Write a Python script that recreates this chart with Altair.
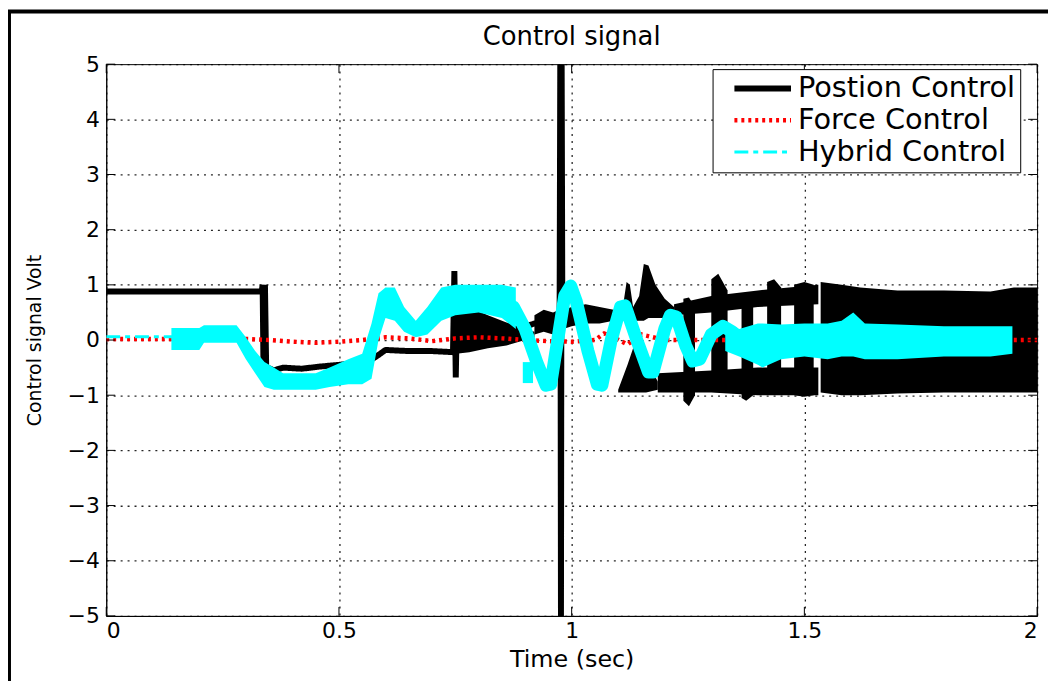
import altair as alt
import pandas as pd

SERIES = ["Postion Control", "Force Control", "Hybrid Control"]
COLORS = ["#000000", "#ff0000", "#00ffff"]
DASHES = [[1, 0], [3, 4], [14, 5, 5, 5]]
WIDTHS = [6, 3, 6]

XTICKS = [0, 0.5, 1, 1.5, 2]
YTICKS = [-5, -4, -3, -2, -1, 0, 1, 2, 3, 4, 5]

# Position control: main path
POS_T = [0, 0.334, 0.336, 0.338, 0.341, 0.344, 0.347, 0.36, 0.38, 0.42, 0.46, 0.5, 0.53, 0.55,
         0.565, 0.58, 0.6, 0.65, 0.7, 0.745, 0.748, 0.751, 0.754, 0.76, 0.85, 0.92, 0.96, 0.974,
         0.9755, 0.977, 0.9785, 0.98, 1.0, 1.05]
POS_V = [0.88, 0.88, 1.0, -0.6, 1.0, -0.7, -0.5, -0.55, -0.5, -0.52, -0.48, -0.45, -0.42, -0.33,
         -0.38, -0.3, -0.18, -0.2, -0.2, -0.22, 1.25, -0.68, 0.7, 0.1, 0.1, 0.3, 0.3, 0.2,
         5, -5, 5, 0.4, 0.45, 0.45]

# Position control: dense oscillation envelopes (segments)
PB_SEG = (["w"] * 6 + ["a"] * 4 + ["b"] * 15 + ["c"] * 5 + ["u"] * 4 + ["l"] * 4 +
          ["k1"] * 3 + ["k2"] * 3 + ["k3"] * 3 + ["k4"] * 3 + ["k5"] * 3 + ["s"] * 8)
PB_T = [0.752, 0.78, 0.82, 0.86, 0.90, 0.92,
        0.92, 0.94, 0.96, 0.973,
        0.982, 1.0, 1.03, 1.06, 1.09, 1.11, 1.118, 1.125, 1.132, 1.145, 1.155, 1.165, 1.18, 1.2, 1.22,
        1.1, 1.12, 1.136, 1.16, 1.185,
        1.22, 1.3, 1.4, 1.53,
        1.185, 1.3, 1.4, 1.53,
        1.24, 1.252, 1.265,
        1.30, 1.315, 1.335,
        1.365, 1.375, 1.39,
        1.42, 1.435, 1.45,
        1.478, 1.5, 1.52,
        1.535, 1.58, 1.62, 1.7, 1.8, 1.9, 1.95, 2.0]
PB_LO = [-0.25, -0.22, -0.15, -0.1, 0.0, 0.05,
         0.1, 0.15, 0.1, 0.15,
         0.2, 0.25, 0.3, 0.3, 0.35, 0.35, 0.4, 0.4, 0.35, 0.35, 0.35, 0.4, 0.4, 0.4, 0.4,
         -0.95, -0.95, -0.95, -0.95, -0.9,
         0.45, 0.5, 0.6, 0.65,
         -0.95, -0.95, -1.0, -1.0,
         -1.1, -1.2, -1.0,
         -0.85, -0.9, -0.9,
         -1.05, -1.1, -1.0,
         -0.9, -0.9, -0.9,
         -1.0, -1.03, -1.0,
         -0.95, -1.0, -1.0, -0.97, -0.95, -0.95, -0.95, -0.95]
PB_HI = [0.72, 0.6, 0.45, 0.32, 0.2, 0.15,
         0.45, 0.55, 0.5, 0.55,
         0.55, 0.6, 0.65, 0.6, 0.55, 0.6, 1.05, 1.0, 0.6, 0.8, 1.38, 1.35, 1.0, 0.75, 0.6,
         -0.9, -0.45, -0.05, -0.35, -0.75,
         0.65, 0.8, 0.9, 1.0,
         -0.6, -0.55, -0.5, -0.5,
         0.75, 0.77, 0.6,
         1.1, 1.2, 0.9,
         0.8, 0.85, 0.7,
         1.05, 1.1, 0.95,
         1.0, 1.05, 1.0,
         1.05, 1.0, 0.95, 0.9, 0.9, 0.88, 0.95, 0.95]

# Force control
FORCE_T = [0, 0.3, 0.35, 0.4, 0.45, 0.5, 0.55, 0.6, 0.65, 0.7, 0.75, 0.8, 0.85, 0.9, 0.95, 1.0,
           1.05, 1.07, 1.09, 1.12, 1.15, 1.2, 1.3, 1.5, 1.7, 1.9, 2.0]
FORCE_V = [0.02, 0.02, 0.0, -0.03, -0.05, -0.03, 0.0, 0.05, 0.03, -0.02, 0.03, 0.05, 0.03, 0.0,
           -0.02, -0.03, 0.0, 0.12, 0.05, -0.08, 0.1, 0.0, 0.0, 0.0, 0.0, 0.0, 0.0]

# Hybrid control: initial dash-dot part
HD_T = [0, 0.175]
HD_V = [0.06, 0.06]

# Hybrid control: thick oscillating part
HY_T = [0.875, 0.9, 0.925, 0.945, 0.955, 0.97, 0.985, 0.998, 1.01, 1.035, 1.055, 1.065, 1.085,
        1.105, 1.115, 1.14, 1.165, 1.175, 1.2, 1.212, 1.225, 1.245, 1.26, 1.275, 1.3, 1.325,
        1.345, 1.37, 1.4]
HY_V = [0.6, 0.2, -0.4, -0.82, -0.8, 0.0, 0.8, 0.98, 0.7, -0.2, -0.8, -0.82, 0.0, 0.6, 0.62,
        0.0, -0.58, -0.58, 0.2, 0.45, 0.42, -0.1, -0.38, -0.35, 0.1, 0.25, 0.15, -0.05, 0.0]

# Hybrid control: noisy band parts
HB_SEG = ["p1"] * 25 + ["p2"] * 2 + ["p3"] * 14
HB_T = [0.14, 0.2, 0.21, 0.28, 0.3, 0.32, 0.34, 0.36, 0.38, 0.45, 0.48, 0.52, 0.55, 0.57, 0.585,
        0.60, 0.62, 0.64, 0.665, 0.69, 0.72, 0.75, 0.8, 0.85, 0.88,
        0.895, 0.917,
        1.33, 1.36, 1.40, 1.41, 1.45, 1.5, 1.55, 1.58, 1.605, 1.63, 1.7, 1.8, 1.9, 1.947]
HB_HI = [0.22, 0.22, 0.27, 0.27, 0.05, -0.2, -0.4, -0.5, -0.6, -0.6, -0.5, -0.35, -0.25, 0.3, 0.85,
         0.95, 0.95, 0.6, 0.35, 0.6, 0.95, 1.0, 1.0, 1.0, 0.95,
         -0.4, -0.4,
         0.3, 0.2, 0.3, 0.3, 0.28, 0.3, 0.3, 0.35, 0.5, 0.3, 0.28, 0.25, 0.25, 0.25]
HB_LO = [-0.18, -0.18, -0.05, -0.05, -0.35, -0.6, -0.85, -0.9, -0.9, -0.9, -0.85, -0.8, -0.8, -0.7, 0.0,
         0.4, 0.35, 0.15, 0.05, 0.1, 0.35, 0.45, 0.5, 0.4, 0.2,
         -0.78, -0.78,
         -0.2, -0.3, -0.45, -0.5, -0.35, -0.3, -0.35, -0.3, -0.3, -0.35, -0.35, -0.3, -0.3, -0.25]

FONT = "DejaVu Sans"
W, H = 938, 556

xs = alt.Scale(domain=[0, 2], nice=False, zero=False)
ys = alt.Scale(domain=[-5, 5], nice=False, zero=False)
xaxis = alt.Axis(values=XTICKS, format="~g", title="Time (sec)", grid=True, ticks=False,
                 labelPadding=5, titleX=W / 2, titleY=44, titleBaseline="middle", titleAlign="center")
yaxis = alt.Axis(values=YTICKS, format="~g", title="Control signal Volt", grid=True, ticks=False,
                 labelPadding=7, titleX=-72, titleY=278, titleBaseline="middle",
                 titleAlign="center", titleAngle=270)


def X():
    return alt.X("t:Q", scale=xs, axis=xaxis)


def Y(f):
    return alt.Y(f"{f}:Q", scale=ys, axis=yaxis)


def legend_enc():
    return dict(
        color=alt.Color("series:N", scale=alt.Scale(domain=SERIES, range=COLORS), legend=alt.Legend(title=None)),
        strokeDash=alt.StrokeDash("series:N", scale=alt.Scale(domain=SERIES, range=DASHES), legend=alt.Legend(title=None)),
        strokeWidth=alt.StrokeWidth("series:N", scale=alt.Scale(domain=SERIES, range=WIDTHS), legend=alt.Legend(title=None)),
        order=alt.Order("i:Q"),
    )


pos_df = pd.DataFrame({"t": POS_T, "v": POS_V, "series": SERIES[0], "i": range(len(POS_T))})
force_df = pd.DataFrame({"t": FORCE_T, "v": FORCE_V, "series": SERIES[1], "i": range(len(FORCE_T))})
hd_df = pd.DataFrame({"t": HD_T, "v": HD_V, "series": SERIES[2], "i": range(len(HD_T))})
hy_df = pd.DataFrame({"t": HY_T, "v": HY_V, "i": range(len(HY_T))})
pb_df = pd.DataFrame({"t": PB_T, "lo": PB_LO, "hi": PB_HI, "seg": PB_SEG})
hb_df = pd.DataFrame({"t": HB_T, "lo": HB_LO, "hi": HB_HI, "seg": HB_SEG})
ytick_df = pd.DataFrame({"v": YTICKS})
xtick_df = pd.DataFrame({"t": XTICKS})

frame = alt.Chart(pd.DataFrame({"k": [0]})).mark_rect(filled=False, stroke="black", strokeWidth=4).encode(
    x=alt.value(-98), x2=alt.value(1000), y=alt.value(-53), y2=alt.value(700))

pos_band = alt.Chart(pb_df).mark_area(color="black", clip=True).encode(
    x=X(), y=Y("lo"), y2=alt.Y2("hi:Q"), detail="seg:N")
pos_line = alt.Chart(pos_df).mark_line(clip=True, strokeJoin="bevel").encode(x=X(), y=Y("v"), **legend_enc())
force_line = alt.Chart(force_df).mark_line(clip=True).encode(x=X(), y=Y("v"), **legend_enc())
hd_line = alt.Chart(hd_df).mark_line(clip=True).encode(x=X(), y=Y("v"), **legend_enc())
hyb_band = alt.Chart(hb_df).mark_area(color="#00ffff", clip=True).encode(
    x=X(), y=Y("lo"), y2=alt.Y2("hi:Q"), detail="seg:N")
hyb_line = alt.Chart(hy_df).mark_line(color="#00ffff", strokeWidth=13, strokeJoin="round",
                                       strokeCap="round", clip=True).encode(
    x=X(), y=Y("v"), order=alt.Order("i:Q"))

yt_l = alt.Chart(ytick_df).mark_rule(color="black", strokeWidth=1).encode(
    y=Y("v"), x=alt.value(0), x2=alt.value(9))
yt_r = alt.Chart(ytick_df).mark_rule(color="black", strokeWidth=1).encode(
    y=Y("v"), x=alt.value(W - 9), x2=alt.value(W))
xt_b = alt.Chart(xtick_df).mark_rule(color="black", strokeWidth=1).encode(
    x=X(), y=alt.value(H - 9), y2=alt.value(H))
xt_t = alt.Chart(xtick_df).mark_rule(color="black", strokeWidth=1).encode(
    x=X(), y=alt.value(0), y2=alt.value(9))

chart = alt.layer(
    frame, pos_band, pos_line, force_line, hd_line, hyb_band, hyb_line, yt_l, yt_r, xt_b, xt_t
).properties(
    width=W, height=H,
    title=alt.TitleParams("Control signal", frame="group", anchor="middle", offset=-41),
    padding={"left": 99, "top": 54, "right": 11, "bottom": 63},
    autosize=alt.AutoSizeParams(type="none"),
    background="white",
).configure(font=FONT).configure_view(
    stroke="black", strokeWidth=1
).configure_axis(
    labelFont=FONT, labelFontSize=22, labelColor="black", titleFont=FONT, titleColor="black",
    titleFontWeight="normal", domainColor="black", domainWidth=1, gridColor="black",
    gridDash=[2, 5], gridOpacity=0.85, gridWidth=1.3
).configure_axisX(titleFontSize=24).configure_axisY(titleFontSize=19).configure_title(
    font=FONT, fontSize=26, fontWeight="normal", color="black"
).configure_legend(
    orient="none", legendX=611, legendY=5, fillColor="white", strokeColor="black", padding=5,
    labelFont=FONT, labelFontSize=29, labelColor="black", labelLimit=500,
    symbolType="M-4.75,0H4.75", symbolSize=144, symbolOffset=31, labelOffset=21, rowPadding=2
)

chart.save("out.html", embed_options={"renderer": "svg", "actions": False})
